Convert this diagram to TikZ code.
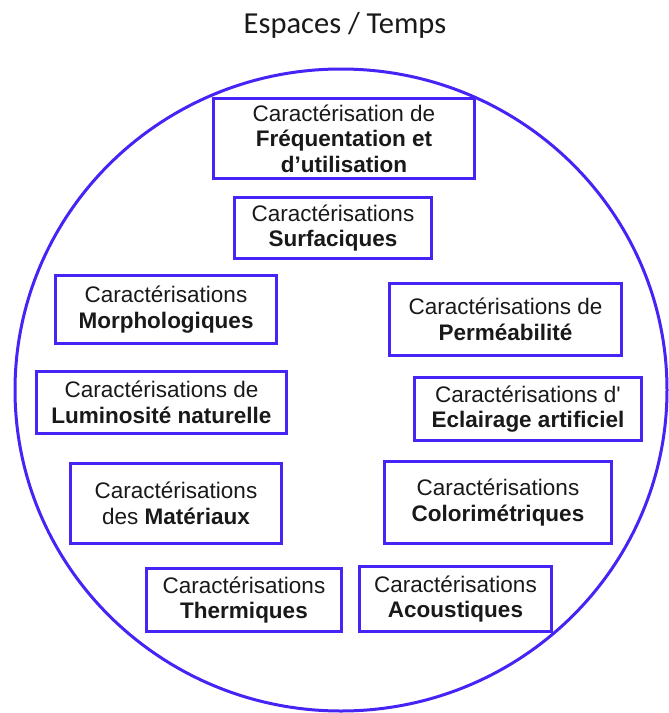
\documentclass[tikz,border=0pt]{standalone}
\usepackage{fontspec}
\usepackage{tikz}
\usetikzlibrary{positioning}
\newfontfamily\boxfont{Liberation Sans}
\newfontfamily\titlefont{Carlito}
\definecolor{ringblue}{RGB}{70,36,245}
\tikzset{
    carac/.style={draw=ringblue, line width=3.4pt, align=center, inner sep=2pt,
        font=\boxfont\fontsize{22.5}{25.5}\selectfont, text=black!90},
    ring/.style={draw=ringblue, line width=3pt}
}

\begin{document}
\begin{tikzpicture}[x=1pt, y=-1pt]
    \useasboundingbox (0,0) rectangle (669,713);
    % Title
    \node[anchor=base, font=\titlefont\fontsize{30.5}{34}\selectfont, text=black!90] (titre) at (345,33) {Espaces / Temps};

    % Circle
    \draw[ring] (341,390) ellipse [x radius=326pt, y radius=321pt];

    % Centre column
    \node[carac, minimum width=261pt, minimum height=80pt] (freq) at (344,138.5)
        {Caractérisation de\\ \textbf{Fréquentation et}\\ \textbf{d’utilisation}};
    \node[carac, minimum width=197pt, minimum height=61pt] (surf) at (333,228)
        {Caractérisations\\ \textbf{Surfaciques}};

    % Left column
    \node[carac, minimum width=221pt, minimum height=68pt] (morph) at (166,309.5)
        {Caractérisations\\ \textbf{Morphologiques}};
    \node[carac, minimum width=250pt, minimum height=62pt] (lumi) at (161.5,402.5)
        {Caractérisations de\\ \textbf{Luminosité naturelle}};
    \node[carac, minimum width=211pt, minimum height=80pt] (mater) at (176,503.5)
        {Caractérisations\\ des \textbf{Matériaux}};
    \node[carac, minimum width=195pt, minimum height=63pt] (therm) at (244,600)
        {Caractérisations\\ \textbf{Thermiques}};

    % Right column
    \node[carac, minimum width=232pt, minimum height=72pt] (perm) at (505.5,319.5)
        {Caractérisations de\\ \textbf{Perméabilité}};
    \node[carac, minimum width=227pt, minimum height=63pt] (eclair) at (528,409)
        {Caractérisations d'\\ \textbf{Eclairage artificiel}};
    \node[carac, minimum width=227pt, minimum height=82pt] (color) at (498,502.5)
        {Caractérisations\\ \textbf{Colorimétriques}};
    \node[carac, minimum width=192pt, minimum height=65pt] (acous) at (455.5,599)
        {Caractérisations\\ \textbf{Acoustiques}};
\end{tikzpicture}
\end{document}
